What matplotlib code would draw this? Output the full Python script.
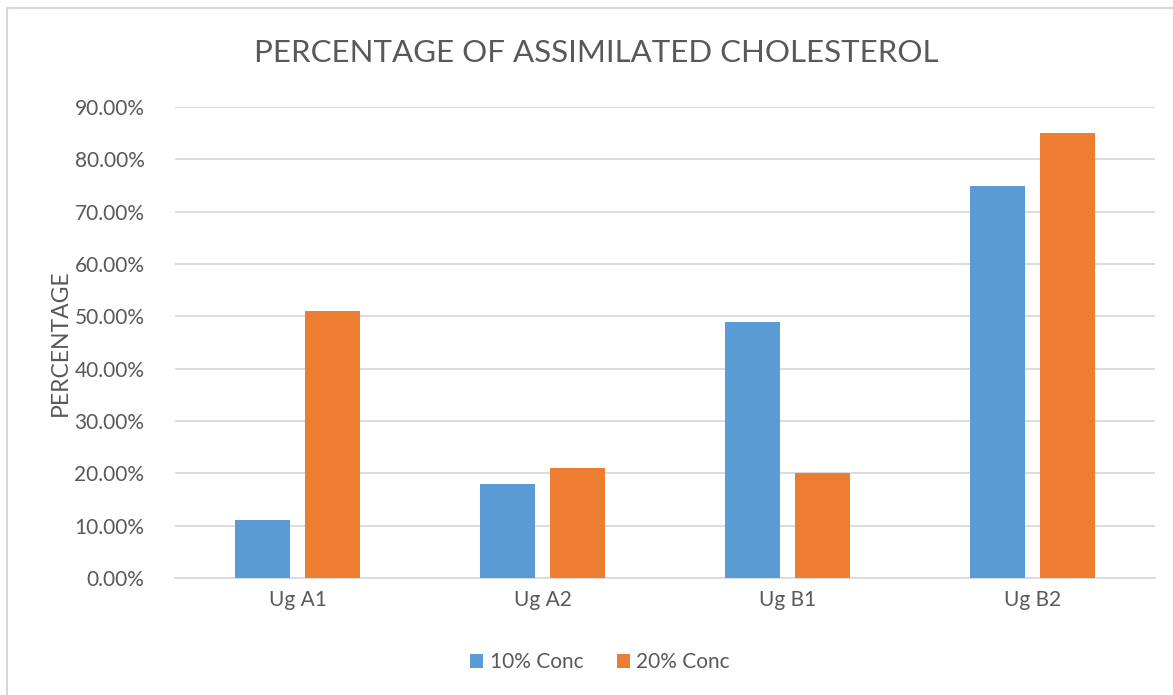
import numpy as np
import matplotlib.pyplot as plt
from matplotlib.patches import Rectangle
from matplotlib.ticker import FuncFormatter

categories = ["Ug A1", "Ug A2", "Ug B1", "Ug B2"]
conc10 = [0.11, 0.18, 0.49, 0.75]
conc20 = [0.51, 0.21, 0.20, 0.85]
series_names = ["10% Conc", "20% Conc"]

plt.rcParams['font.family'] = ['Lato', 'DejaVu Sans']
grey = "#595959"

fig = plt.figure(figsize=(11.73, 6.95), dpi=100)
fig.patches.append(Rectangle((7 / 1173, -0.01), 1.1, 1 - 8 / 695 + 0.01,
                             transform=fig.transFigure, fill=False,
                             edgecolor="#D9D9D9", linewidth=1.5))

ax = fig.add_axes([175 / 1173, 117 / 695, 980 / 1173, 471 / 695])
x = np.arange(len(categories))
w = 0.224
off = 0.143
ax.bar(x - off, conc10, w, color="#5B9BD5", label=series_names[0], zorder=3)
ax.bar(x + off, conc20, w, color="#ED7D31", label=series_names[1], zorder=3)

ax.set_xlim(-0.5, 3.5)
ax.set_ylim(0, 0.9)
ax.set_yticks(np.arange(0, 0.91, 0.1))
ax.yaxis.set_major_formatter(FuncFormatter(lambda v, p: "%.2f%%" % (v * 100)))
ax.set_xticks(x)
ax.set_xticklabels(categories)
ax.grid(axis="y", color="#D9D9D9", linewidth=1.3, zorder=0)
for s in ["top", "right", "left"]:
    ax.spines[s].set_visible(False)
ax.spines["bottom"].set_color("#D9D9D9")
ax.spines["bottom"].set_linewidth(1.3)
ax.tick_params(axis="both", length=0, labelsize=15, labelcolor=grey)
ax.tick_params(axis="y", pad=22)
ax.tick_params(axis="x", pad=9)

ax.set_ylabel("PERCENTAGE", fontsize=16.5, color=grey)
ax.yaxis.set_label_coords(-0.106, 0.5)
fig.text(596 / 1173, 1 - 53 / 695, "PERCENTAGE OF ASSIMILATED CHOLESTEROL",
         ha="center", va="center", fontsize=22.5, color=grey)

ax.legend(loc="center", bbox_to_anchor=(600 / 1173, 1 - 662 / 695),
          bbox_transform=fig.transFigure, ncol=2, frameon=False,
          fontsize=15, labelcolor=grey, handlelength=0.65, handleheight=0.65,
          handletextpad=0.3, columnspacing=1.6)

fig.savefig("out.png", dpi=100)
